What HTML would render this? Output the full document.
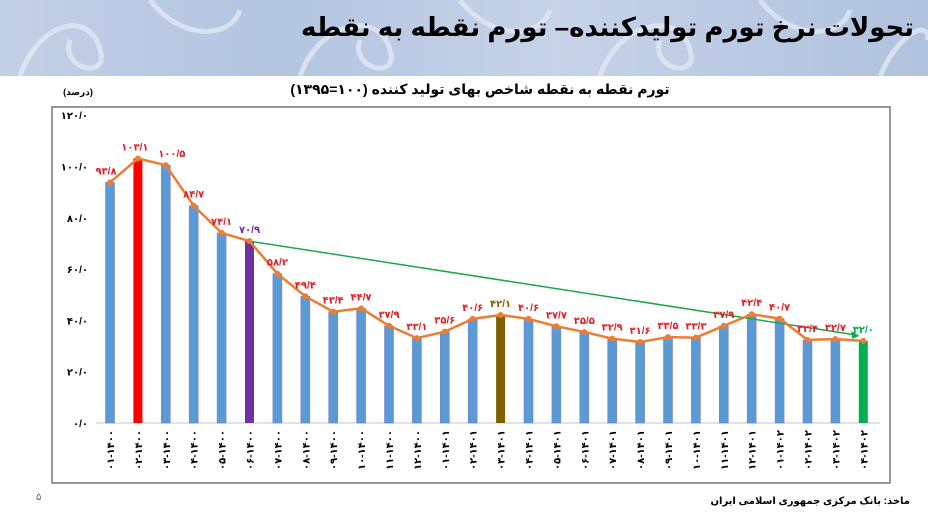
<!DOCTYPE html>
<html><head><meta charset="utf-8"><style>
body{margin:0;width:928px;height:522px;overflow:hidden;background:#fff;font-family:"Liberation Sans","DejaVu Sans",sans-serif;}
#hdr{position:absolute;left:0;top:0;width:928px;height:76px;background:linear-gradient(90deg,#c3d0e6,#b4c5e0 30%,#c6d3e8 60%,#b0c2de);overflow:hidden}
#title{position:absolute;right:14px;top:12px;font-size:26px;font-weight:bold;color:#000;direction:rtl;letter-spacing:-0.5px}
</style></head><body>
<div id="hdr">
<svg width="928" height="76" style="position:absolute;left:0;top:0">
<g fill="none" stroke="#e6ecf6" stroke-width="5" opacity="0.7">
<path d="M20 76 C40 20 90 10 100 50 C110 80 60 70 70 40"/>
<path d="M150 0 C180 40 230 40 240 10"/>
<path d="M300 76 C320 20 380 10 390 50 C400 80 350 70 360 40"/>
<path d="M460 0 C490 40 540 40 550 10"/>
<path d="M600 76 C620 20 680 10 690 50 C700 80 650 70 660 40"/>
<path d="M760 0 C790 40 840 40 850 10"/>
<path d="M880 76 C900 30 930 20 928 40"/>
</g></svg>
<div id="title">تحولات نرخ تورم تولیدکننده– تورم نقطه به نقطه</div>
</div>
<svg id="c" width="928" height="446" style="position:absolute;left:0;top:76px" viewBox="0 76 928 446"></svg>
<script>
const v=[93.8,103.1,100.5,84.7,74.1,70.9,58.2,49.4,43.4,44.7,37.9,33.1,35.6,40.6,42.1,40.6,37.7,35.5,32.9,31.6,33.5,33.3,37.9,42.4,40.7,32.4,32.7,32.0];
const fa=s=>String(s).replace(/\d/g,d=>"۰۱۲۳۴۵۶۷۸۹"[d]).replace('.','/');
const Y=x=>423-x*2.565, X=i=>110+i*27.9;
let s='';
s+='<text x="480" y="94" font-size="14" font-weight="bold" text-anchor="middle" direction="rtl">تورم نقطه به نقطه شاخص بهای تولید کننده (۱۰۰=۱۳۹۵)</text>';
s+='<text x="78" y="95" font-size="9" font-weight="bold" text-anchor="middle">(درصد)</text>';
s+='<rect x="52" y="107" width="838" height="376" fill="#fff" stroke="#777" stroke-width="1.5"/>';
for(let k=0;k<=6;k++){s+=`<text x="88" y="${Y(k*20)+4}" font-size="10" font-weight="bold" text-anchor="end">${fa((k*20).toFixed(1))}</text>`;}
s+='<line x1="96" y1="423" x2="880" y2="423" stroke="#d9d9d9" stroke-width="1.5"/>';
const cols={1:'#ff0000',5:'#7030a0',14:'#7f6000',27:'#00b050'};
let pts=[];
v.forEach((d,i)=>{const x=X(i);s+=`<rect x="${x-4.5}" y="${Y(d)}" width="9" height="${423-Y(d)}" fill="${cols[i]||'#5b9bd5'}" stroke="${cols[i]?'none':'#7f7fcf'}" stroke-width="0.6"/>`;pts.push(x+','+Y(d));
 const lab=(i<12?'۱۴۰۰':(i<24?'۱۴۰۱':'۱۴۰۲'))+'-'+fa(String((i%12)+1).padStart(2,'0'));
 s+=`<text transform="translate(${x+4},430) rotate(-90)" font-size="10" font-weight="bold" text-anchor="end" direction="ltr">${lab.split('-').reverse().join('-')}</text>`;});
s+=`<line x1="${X(5)}" y1="${Y(70.9)}" x2="${X(27)-8}" y2="${Y(32)-6}" stroke="#1aa84a" stroke-width="1.5"/>`;
s+=`<polygon points="${X(27)-4},${Y(32)-5} ${X(27)-12},${Y(32)-10} ${X(27)-11},${Y(32)-2}" fill="#1aa84a"/>`;
s+=`<polyline points="${pts.join(' ')}" fill="none" stroke="#ed7d31" stroke-width="2.5"/>`;
v.forEach((d,i)=>{const x=X(i);s+=`<circle cx="${x}" cy="${Y(d)}" r="3" fill="#ed7d31"/>`;
 let c=i==5?'#7030a0':i==14?'#7f6000':i==27?'#00b050':'#e0202a';
 let dx=i==0?-4:i==1?-3:i==2?6:0;
 s+=`<text x="${x+dx}" y="${Y(d)-8}" font-size="10" font-weight="bold" fill="${c}" text-anchor="middle">${fa(d.toFixed(1))}</text>`;});
s+='<text x="910" y="504" font-size="10" font-weight="bold" text-anchor="start" direction="rtl">ماخذ: بانک مرکزی جمهوری اسلامی ایران</text>';
s+='<text x="36" y="500" font-size="10" fill="#666">۵</text>';
document.getElementById('c').innerHTML=s;
</script>
</body></html>
